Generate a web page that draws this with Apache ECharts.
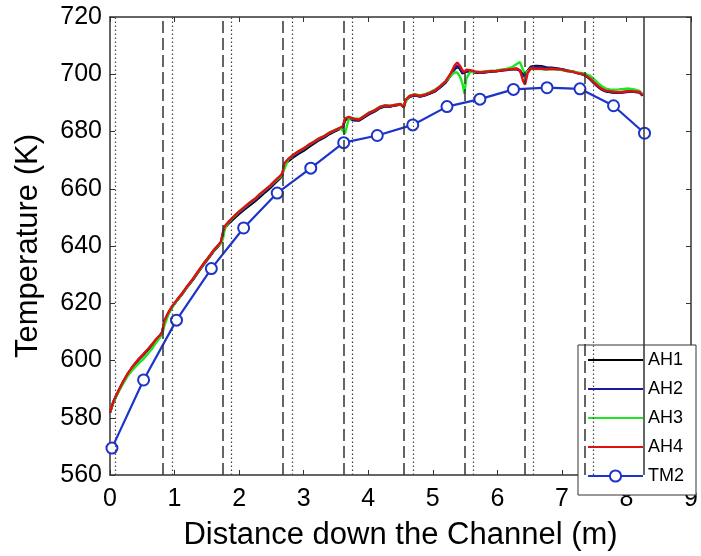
<!DOCTYPE html>
<html>
<head>
<meta charset="utf-8">
<title>Temperature down the channel</title>
<script src="https://cdn.jsdelivr.net/npm/echarts@6/dist/echarts.min.js"></script>
<style>
  html, body { margin: 0; padding: 0; background: #fff; }
  #chart { width: 701px; height: 556px; }
</style>
</head>
<body>
<div id="chart"></div>
<script>
// distance (m) shared by the AH curves
var AH_X = [0.00, 0.05, 0.10, 0.15, 0.20, 0.28, 0.36, 0.44, 0.52, 0.59, 0.66, 0.72, 0.78, 0.81, 0.84, 0.90, 0.96, 1.04, 1.12, 1.20,
  1.28, 1.36, 1.44, 1.52, 1.60, 1.68, 1.72, 1.75, 1.78, 1.84, 1.92, 2.00, 2.08, 2.16, 2.24, 2.32, 2.40, 2.48, 2.56, 2.64,
  2.67, 2.70, 2.76, 2.84, 2.92, 3.00, 3.08, 3.16, 3.24, 3.32, 3.40, 3.48, 3.56, 3.61, 3.64, 3.70, 3.78, 3.86, 3.94, 4.02,
  4.10, 4.18, 4.26, 4.34, 4.42, 4.50, 4.55, 4.58, 4.64, 4.72, 4.80, 4.88, 4.96, 5.04, 5.12, 5.20, 5.28, 5.34, 5.38, 5.42,
  5.46, 5.49, 5.52, 5.58, 5.66, 5.74, 5.82, 5.90, 5.98, 6.06, 6.14, 6.22, 6.30, 6.35, 6.40, 6.43, 6.47, 6.52, 6.60, 6.68,
  6.76, 6.84, 6.92, 7.00, 7.08, 7.16, 7.24, 7.32, 7.38, 7.44, 7.50, 7.56, 7.62, 7.68, 7.74, 7.80, 7.88, 7.96, 8.04, 8.12,
  8.20, 8.25]

var AH1 = [581.8, 585.3, 587.8, 590.1, 592.2, 595.4, 598.0, 600.2, 602.0, 603.8, 605.6, 607.3, 608.8, 609.8, 613.4, 616.3, 618.6, 621.0, 623.2, 625.8,
  628.0, 630.6, 633.2, 635.5, 638.0, 640.0, 641.3, 644.2, 646.4, 647.9, 649.6, 651.2, 652.7, 654.1, 655.5, 657.1, 658.7, 660.2, 662.0, 663.8,
  664.8, 668.2, 669.6, 671.0, 672.2, 673.3, 674.6, 675.8, 677.0, 677.9, 679.1, 680.0, 680.9, 681.5, 684.0, 684.6, 683.9, 683.8, 685.0, 686.1,
  687.0, 688.2, 688.8, 688.7, 689.1, 689.4, 688.6, 690.8, 692.1, 692.6, 692.2, 692.6, 693.3, 694.1, 695.5, 697.1, 699.6, 701.8, 702.6, 701.9,
  700.3, 700.1, 700.9, 701.0, 700.6, 700.5, 700.7, 700.9, 701.0, 701.3, 701.5, 701.7, 701.8, 701.2, 699.8, 699.4, 701.2, 702.6, 702.9, 702.8,
  702.4, 702.3, 702.0, 701.8, 701.3, 701.0, 700.5, 700.0, 699.3, 698.2, 696.8, 695.6, 694.6, 694.0, 693.8, 693.6, 693.5, 693.7, 693.9, 693.9,
  693.7, 692.5]

var AH2 = [581.9, 585.4, 587.9, 590.2, 592.4, 595.5, 598.1, 600.3, 602.1, 603.9, 605.7, 607.4, 608.9, 609.9, 613.6, 616.4, 618.7, 621.1, 623.4, 625.9,
  628.2, 630.8, 633.4, 635.7, 638.2, 640.2, 641.4, 644.5, 646.7, 648.2, 650.0, 651.6, 653.1, 654.6, 655.9, 657.6, 659.1, 660.6, 662.4, 664.2,
  665.1, 668.5, 670.0, 671.4, 672.6, 673.7, 675.0, 676.1, 677.3, 678.1, 679.3, 680.2, 681.1, 681.7, 684.3, 684.8, 684.1, 684.0, 685.2, 686.3,
  687.2, 688.4, 688.9, 688.8, 689.2, 689.5, 688.5, 690.9, 692.2, 692.7, 692.3, 692.7, 693.4, 694.2, 695.6, 697.3, 699.9, 702.1, 702.9, 702.2,
  700.6, 700.3, 701.1, 701.2, 700.7, 700.6, 700.8, 701.0, 701.1, 701.4, 701.6, 701.8, 701.9, 701.3, 699.2, 698.8, 701.0, 702.4, 702.6, 702.5,
  702.2, 702.1, 701.9, 701.7, 701.2, 700.9, 700.4, 700.0, 699.3, 698.3, 696.9, 695.7, 694.7, 694.1, 693.9, 693.7, 693.6, 693.8, 694.0, 693.9,
  693.7, 692.6]

var AH3 = [582.0, 585.2, 587.6, 589.8, 591.8, 594.8, 597.0, 598.9, 600.6, 602.4, 604.4, 606.4, 608.2, 609.2, 612.0, 615.8, 618.5, 621.0, 623.4, 625.9,
  628.3, 630.8, 633.4, 635.8, 638.2, 640.2, 640.9, 642.5, 646.2, 648.4, 650.3, 652.0, 653.5, 655.0, 656.4, 658.0, 659.5, 661.0, 662.7, 664.2,
  663.8, 666.8, 670.2, 671.9, 673.1, 674.1, 675.4, 676.5, 677.6, 678.5, 679.6, 680.5, 681.3, 680.2, 679.2, 684.6, 684.6, 684.4, 685.5, 686.7,
  687.5, 688.6, 689.1, 689.0, 689.4, 689.6, 688.9, 690.4, 692.4, 693.0, 692.6, 693.0, 693.8, 694.7, 696.0, 697.5, 699.6, 700.6, 700.6, 699.2,
  696.8, 693.2, 698.6, 700.8, 700.9, 700.8, 701.0, 701.2, 701.3, 701.6, 701.9, 702.4, 703.6, 704.3, 701.4, 700.2, 701.0, 701.9, 701.8, 701.8,
  701.6, 701.8, 701.6, 701.5, 701.1, 701.0, 700.6, 700.4, 700.0, 699.4, 698.2, 696.9, 695.8, 695.0, 694.7, 694.6, 694.7, 694.9, 695.0, 694.7,
  694.2, 693.0]

var AH4 = [582.0, 585.5, 588.0, 590.3, 592.5, 595.6, 598.2, 600.4, 602.3, 604.0, 605.9, 607.6, 609.0, 610.0, 613.8, 616.6, 618.9, 621.3, 623.6, 626.1,
  628.4, 631.0, 633.6, 635.9, 638.4, 640.4, 641.6, 644.8, 647.0, 648.6, 650.4, 652.1, 653.6, 655.1, 656.4, 658.1, 659.6, 661.1, 662.9, 664.6,
  665.4, 668.9, 670.4, 671.9, 673.1, 674.1, 675.4, 676.4, 677.6, 678.4, 679.6, 680.4, 681.3, 681.9, 684.6, 685.1, 684.4, 684.2, 685.4, 686.6,
  687.4, 688.6, 689.1, 688.9, 689.3, 689.6, 688.4, 691.1, 692.4, 692.9, 692.4, 692.9, 693.6, 694.4, 695.9, 697.6, 700.4, 703.1, 704.1, 703.0,
  701.4, 700.6, 701.6, 701.4, 700.9, 700.7, 700.9, 701.1, 701.1, 701.4, 701.6, 701.8, 702.0, 701.4, 697.6, 696.4, 700.4, 702.1, 701.9, 701.9,
  701.7, 701.9, 701.7, 701.6, 701.1, 700.9, 700.4, 700.1, 699.4, 698.4, 697.1, 695.9, 694.9, 694.3, 694.1, 693.9, 693.7, 693.9, 694.1, 694.0,
  693.8, 692.8]

// thermocouple readings
var TM2_X = [0.03, 0.52, 1.03, 1.57, 2.07, 2.59, 3.11, 3.62, 4.14, 4.69, 5.22, 5.73, 6.25, 6.77, 7.28, 7.80, 8.28]
var TM2 = [569.4, 593.2, 614.1, 632.1, 646.3, 658.5, 667.2, 676.1, 678.6, 682.3, 688.7, 691.3, 694.7, 695.3, 694.9, 689.0, 679.4]

// vertical reference positions (m)
var DASHED_X = [0.81, 1.74, 2.67, 3.62, 4.55, 5.50, 6.43, 7.36]
var DOTTED_X = [0.08, 0.96, 1.88, 2.83, 3.76, 4.69, 5.62, 6.55, 7.48]
var SOLID_X = [8.27]

var X_TICKS = [0, 9, 1]
var Y_TICKS = [560, 720, 20]

var FONT = "'Liberation Sans', Arial, sans-serif"
var LINE_ICON = 'path://M0,0 L55,0 L55,2.2 L0,2.2 Z'

function pairs(xs, ys) {
  return xs.map(function (x, i) { return [x, ys[i]] })
}

function axisBase(ticks, position, showLabel) {
  return {
    type: 'value',
    min: ticks[0],
    max: ticks[1],
    interval: ticks[2],
    position: position,
    axisLine: { show: true, onZero: false, lineStyle: { color: '#333', width: 1.5 } },
    axisTick: { show: true, inside: true, length: 5, lineStyle: { color: '#333', width: 1 } },
    axisLabel: { show: showLabel, fontSize: 25, color: '#000', fontFamily: FONT },
    splitLine: { show: false }
  }
}

var refLines = []
DASHED_X.forEach(function (x) {
  refLines.push({ xAxis: x, lineStyle: { color: '#333', width: 1.5, type: [12, 5] } })
})
DOTTED_X.forEach(function (x) {
  refLines.push({ xAxis: x, lineStyle: { color: '#444', width: 1.2, type: [1.5, 2.5] } })
})
SOLID_X.forEach(function (x) {
  refLines.push({ xAxis: x, lineStyle: { color: '#333', width: 1.5, type: 'solid' } })
})

var xBottom = axisBase(X_TICKS, 'bottom', true)
xBottom.axisLabel.margin = 12
xBottom.name = 'Distance down the Channel (m)'
xBottom.nameLocation = 'middle'
xBottom.nameGap = 45
xBottom.nameTextStyle = { fontSize: 31, color: '#000', fontFamily: FONT }

var yLeft = axisBase(Y_TICKS, 'left', true)
yLeft.axisLabel.margin = 8
yLeft.name = 'Temperature (K)'
yLeft.nameLocation = 'middle'
yLeft.nameGap = 66
yLeft.nameTextStyle = { fontSize: 31, color: '#000', fontFamily: FONT }

function ahSeries(name, ys, color) {
  return {
    name: name,
    type: 'line',
    data: pairs(AH_X, ys),
    symbol: 'none',
    lineStyle: { color: color, width: 2.4 },
    itemStyle: { color: color },
    z: 3
  }
}

var chart = echarts.init(document.getElementById('chart'))
chart.setOption({
  animation: false,
  backgroundColor: '#fff',
  grid: { left: 110, right: 10, top: 17, bottom: 80, containLabel: false },
  xAxis: [xBottom, axisBase(X_TICKS, 'top', false)],
  yAxis: [yLeft, axisBase(Y_TICKS, 'right', false)],
  legend: {
    data: [
      { name: 'AH1', icon: LINE_ICON },
      { name: 'AH2', icon: LINE_ICON },
      { name: 'AH3', icon: LINE_ICON },
      { name: 'AH4', icon: LINE_ICON },
      { name: 'TM2' }
    ],
    orient: 'vertical',
    left: 578,
    top: 345,
    itemWidth: 55,
    itemHeight: 14,
    itemGap: 11,
    padding: [6, 12, 10, 9],
    borderColor: '#333',
    borderWidth: 1,
    backgroundColor: '#fff',
    textStyle: { fontSize: 18, color: '#000', fontFamily: FONT }
  },
  series: [
    {
      name: 'refs',
      type: 'line',
      data: [],
      silent: true,
      z: 1,
      markLine: {
        silent: true,
        symbol: ['none', 'none'],
        label: { show: false },
        animation: false,
        data: refLines
      }
    },
    ahSeries('AH1', AH1, '#000000'),
    ahSeries('AH2', AH2, '#1a1a9e'),
    ahSeries('AH3', AH3, '#1ee61e'),
    ahSeries('AH4', AH4, '#e01010'),
    {
      name: 'TM2',
      type: 'line',
      data: pairs(TM2_X, TM2),
      symbol: 'emptyCircle',
      symbolSize: 11,
      lineStyle: { color: '#1c34c8', width: 2.2 },
      itemStyle: { color: '#1c34c8', borderWidth: 2 },
      z: 4
    }
  ]
})
</script>
</body>
</html>
